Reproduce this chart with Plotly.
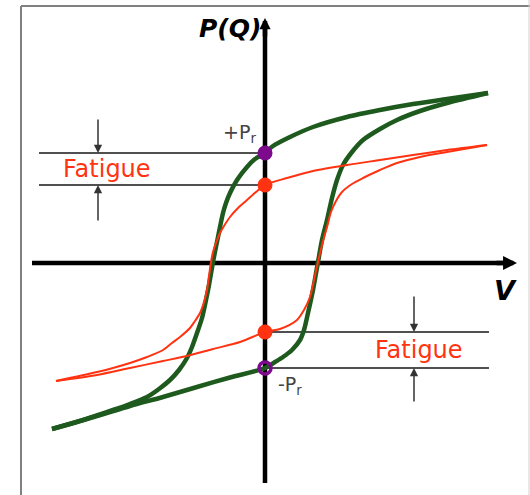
import plotly.graph_objects as go

# Hysteresis loops: polarization P(Q) against applied voltage V
# Fresh cell (green): upper branch runs from +Vmax to -Vmax, lower branch back again
green_up_v = [2.23, 1.82, 1.48, 1.15, 0.82, 0.48, 0.25, 0.08, 0.00, -0.10, -0.18, -0.28, -0.35,
              -0.39, -0.42, -0.47, -0.52, -0.56, -0.59, -0.63, -0.68, -0.73, -0.78, -0.86,
              -0.95, -1.06, -1.18, -1.35, -1.52, -1.85, -2.13]
green_up_p = [1.70, 1.64, 1.59, 1.53, 1.46, 1.36, 1.26, 1.17, 1.10, 1.04, 0.96, 0.83, 0.70,
              0.60, 0.50, 0.26, 0.01, -0.22, -0.37, -0.55, -0.70, -0.84, -0.95, -1.07,
              -1.17, -1.26, -1.34, -1.41, -1.47, -1.58, -1.66]
green_lo_v = [-2.13, -1.68, -1.35, -1.02, -0.68, -0.35, 0.00, 0.10, 0.18, 0.27, 0.35, 0.39,
              0.43, 0.48, 0.53, 0.57, 0.62, 0.67, 0.72, 0.78, 0.87, 0.98, 1.15, 1.32, 1.55,
              1.82, 2.23]
green_lo_p = [-1.66, -1.53, -1.43, -1.34, -1.24, -1.145, -1.05, -0.99, -0.94, -0.87, -0.77, -0.67,
              -0.50, -0.27, 0.01, 0.23, 0.43, 0.65, 0.83, 0.98, 1.11, 1.23, 1.34, 1.43, 1.52,
              1.60, 1.70]

# Fatigued cell (red)
red_up_v = [2.22, 1.82, 1.48, 1.15, 0.82, 0.48, 0.22, 0.00, -0.09, -0.18, -0.27, -0.35, -0.41,
            -0.45, -0.49, -0.52, -0.54, -0.56, -0.58, -0.61, -0.65, -0.70, -0.75, -0.85,
            -0.93, -1.02, -1.18, -1.35, -1.52, -1.68, -2.09]
red_up_p = [1.18, 1.13, 1.08, 1.03, 0.98, 0.92, 0.85, 0.78, 0.71, 0.63, 0.55, 0.46, 0.37,
            0.30, 0.20, 0.11, 0.01, -0.13, -0.27, -0.39, -0.50, -0.58, -0.65, -0.74,
            -0.80, -0.87, -0.94, -1.00, -1.05, -1.09, -1.18]
red_lo_v = [-2.09, -1.68, -1.35, -1.02, -0.78, -0.52, -0.25, 0.00, 0.15, 0.32, 0.39, 0.45,
            0.49, 0.53, 0.57, 0.62, 0.66, 0.71, 0.77, 0.87, 0.98, 1.15, 1.32, 1.55, 1.82, 2.22]
red_lo_p = [-1.18, -1.12, -1.05, -0.98, -0.93, -0.86, -0.79, -0.69, -0.66, -0.57, -0.47, -0.34,
            -0.17, 0.01, 0.18, 0.36, 0.51, 0.62, 0.71, 0.79, 0.85, 0.93, 1.00, 1.06, 1.11, 1.18]

# Remanent polarization values (+Pr, -Pr)
pr_fresh = [1.10, -1.05]
pr_fatigued = [0.78, -0.69]

# Extent of the guide lines marking the remanent levels
guide_left = -2.26
guide_right = 2.24
arrow_v_left = -1.67
arrow_v_right = 1.49

GREEN = "#1e5a1e"
RED = "#ff3311"
PURPLE = "#7d0a8c"
FONT = "DejaVu Sans"

fig = go.Figure()

# Guide lines at the remanent levels
for p in pr_fresh[:1] + pr_fatigued[:1]:
    fig.add_trace(go.Scatter(x=[guide_left, 0], y=[p, p], mode="lines",
                             line=dict(color="#505050", width=1.8), hoverinfo="skip"))
for p in pr_fresh[1:] + pr_fatigued[1:]:
    fig.add_trace(go.Scatter(x=[0, guide_right], y=[p, p], mode="lines",
                             line=dict(color="#505050", width=1.8), hoverinfo="skip"))

# Loops
for v, p in [(green_up_v, green_up_p), (green_lo_v, green_lo_p)]:
    fig.add_trace(go.Scatter(x=v, y=p, mode="lines",
                             line=dict(color=GREEN, width=4.5, shape="spline", smoothing=0.8),
                             hoverinfo="skip"))
for v, p in [(red_up_v, red_up_p), (red_lo_v, red_lo_p)]:
    fig.add_trace(go.Scatter(x=v, y=p, mode="lines",
                             line=dict(color=RED, width=2, shape="spline", smoothing=0.8),
                             hoverinfo="skip"))

# Remanent points
fig.add_trace(go.Scatter(x=[0, 0], y=pr_fatigued, mode="markers",
                         marker=dict(color=RED, size=15), hoverinfo="skip"))
fig.add_trace(go.Scatter(x=[0], y=[pr_fresh[0]], mode="markers",
                         marker=dict(color=PURPLE, size=15), hoverinfo="skip"))
fig.add_trace(go.Scatter(x=[0], y=[pr_fresh[1]], mode="markers",
                         marker=dict(symbol="circle-open", color=PURPLE, size=12,
                                     line=dict(width=3.5, color=PURPLE)), hoverinfo="skip"))

shapes = [
    # coordinate axes
    dict(type="line", x0=-2.33, x1=2.40, y0=0, y1=0, xref="x", yref="y",
         line=dict(color="black", width=4.5), layer="below"),
    dict(type="line", x0=0, x1=0, y0=-2.20, y1=2.35, xref="x", yref="y",
         line=dict(color="black", width=4.5), layer="below"),
    # frame
    dict(type="line", x0=21 / 530, x1=21 / 530, y0=0, y1=1 - 6 / 495, xref="paper", yref="paper",
         line=dict(color="#808080", width=2)),
    dict(type="line", x0=21 / 530, x1=1, y0=1 - 6 / 495, y1=1 - 6 / 495, xref="paper", yref="paper",
         line=dict(color="#808080", width=2)),
    dict(type="line", x0=529 / 530, x1=529 / 530, y0=0, y1=1, xref="paper", yref="paper",
         line=dict(color="#d0d0d0", width=1)),
]

annotations = [
    # axis arrowheads
    dict(x=2.52, y=0, ax=2.30, ay=0, xref="x", yref="y", axref="x", ayref="y", text="",
         showarrow=True, arrowhead=2, arrowwidth=4.5, arrowsize=0.62, arrowcolor="black"),
    dict(x=0, y=2.45, ax=0, ay=2.25, xref="x", yref="y", axref="x", ayref="y", text="",
         showarrow=True, arrowhead=2, arrowwidth=4.5, arrowsize=0.5, arrowcolor="black"),
    # fatigue markers
    dict(x=arrow_v_left, y=pr_fresh[0], ax=arrow_v_left, ay=1.45, xref="x", yref="y",
         axref="x", ayref="y", text="", showarrow=True, arrowhead=2, arrowwidth=1.5,
         arrowsize=1.1, arrowcolor="#333333"),
    dict(x=arrow_v_left, y=pr_fatigued[0], ax=arrow_v_left, ay=0.41, xref="x", yref="y",
         axref="x", ayref="y", text="", showarrow=True, arrowhead=2, arrowwidth=1.5,
         arrowsize=1.1, arrowcolor="#333333"),
    dict(x=arrow_v_right, y=pr_fatigued[1], ax=arrow_v_right, ay=-0.32, xref="x", yref="y",
         axref="x", ayref="y", text="", showarrow=True, arrowhead=2, arrowwidth=1.5,
         arrowsize=1.1, arrowcolor="#333333"),
    dict(x=arrow_v_right, y=pr_fresh[1], ax=arrow_v_right, ay=-1.40, xref="x", yref="y",
         axref="x", ayref="y", text="", showarrow=True, arrowhead=2, arrowwidth=1.5,
         arrowsize=1.1, arrowcolor="#333333"),
    # labels
    dict(x=-1.58, y=0.94, text="Fatigue", showarrow=False, xanchor="center", yanchor="middle",
         font=dict(family=FONT, size=24, color=RED)),
    dict(x=1.54, y=-0.87, text="Fatigue", showarrow=False, xanchor="center", yanchor="middle",
         font=dict(family=FONT, size=24, color=RED)),
    dict(x=-0.07, y=1.30, text="+P<sub>r</sub>", showarrow=False, xanchor="right", yanchor="middle",
         font=dict(family=FONT, size=19, color="#444444")),
    dict(x=0.11, y=-1.22, text="-P<sub>r</sub>", showarrow=False, xanchor="left", yanchor="middle",
         font=dict(family=FONT, size=19, color="#444444")),
    dict(x=-0.02, y=2.35, text="<b><i>P(Q)</i></b>", showarrow=False, xanchor="right", yanchor="middle",
         font=dict(family=FONT, size=25, color="black")),
    dict(x=2.40, y=-0.27, text="<b><i>V</i></b>", showarrow=False, xanchor="center", yanchor="middle",
         font=dict(family=FONT, size=27, color="black")),
]

fig.update_layout(
    width=530, height=495,
    margin=dict(l=0, r=0, t=0, b=0),
    paper_bgcolor="white", plot_bgcolor="white",
    showlegend=False, hovermode=False,
    xaxis=dict(range=[-2.65, 2.65], visible=False, fixedrange=True),
    yaxis=dict(range=[-2.32, 2.63], visible=False, fixedrange=True),
    shapes=shapes, annotations=annotations,
)

fig.write_html("out.html", config={"displayModeBar": False})
